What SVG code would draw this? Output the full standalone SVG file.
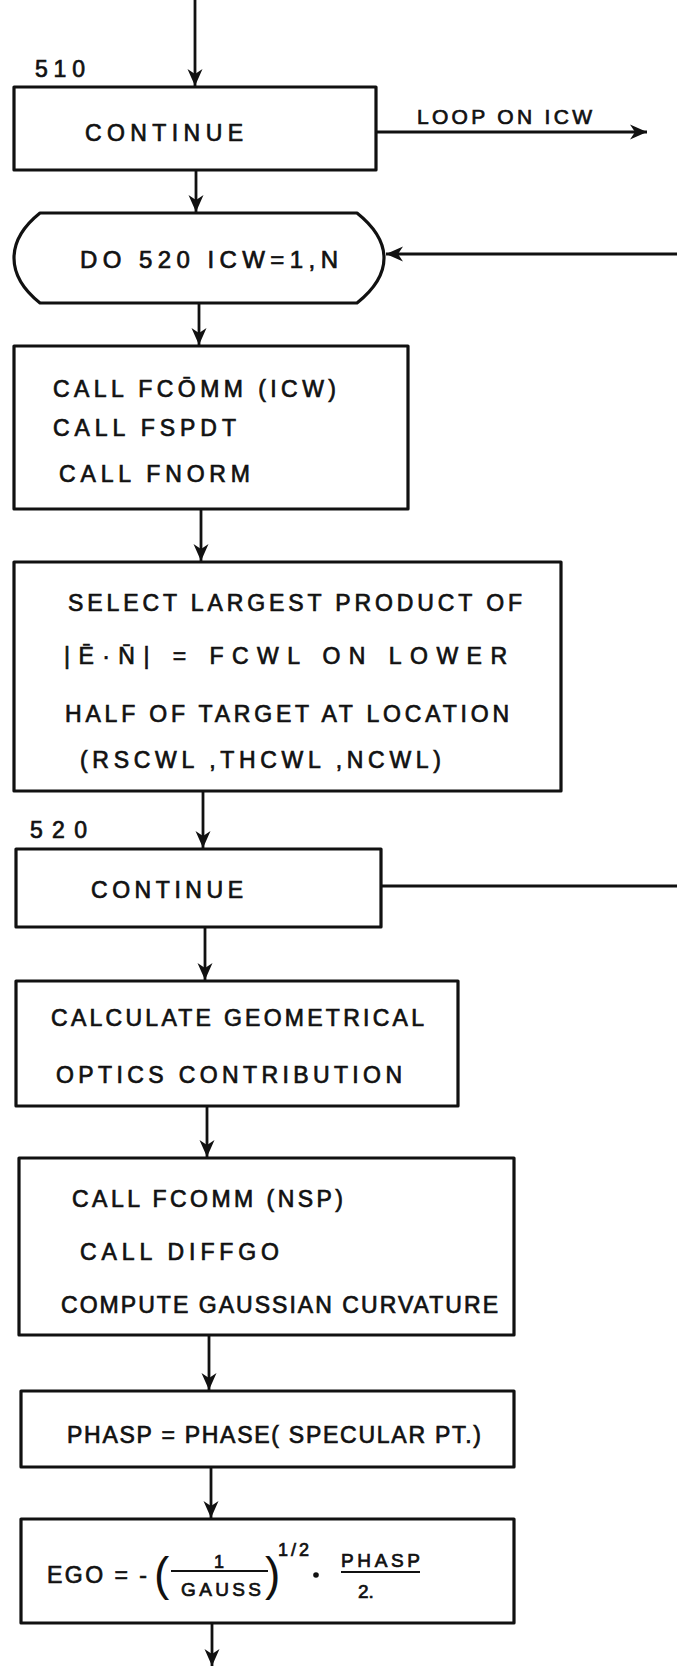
<svg xmlns="http://www.w3.org/2000/svg" width="677" height="1669" viewBox="0 0 677 1669">
<defs>
<marker id="ah" markerUnits="userSpaceOnUse" markerWidth="18" markerHeight="16" viewBox="0 0 18 16" refX="17" refY="8" orient="auto">
<path d="M0,0.5 L17,8 L0,15.5 L5,8 Z" fill="#111"/>
</marker>
</defs>
<style>
.box{fill:#fff;stroke:#111;stroke-width:3.2;stroke-linejoin:round}
.ln{fill:none;stroke:#111;stroke-width:2.8}
.t{font-family:"Liberation Sans",Arial,sans-serif;font-size:23px;fill:#111;stroke:#111;stroke-width:0.7}
</style>
<rect width="677" height="1669" fill="#fff"/>
<g id="connectors">
<path class="ln" d="M195,0 V86" marker-end="url(#ah)"/>
<path class="ln" d="M376,132 H647" marker-end="url(#ah)"/>
<path class="ln" d="M196,170 V212" marker-end="url(#ah)"/>
<path class="ln" d="M677,254 H386" marker-end="url(#ah)"/>
<path class="ln" d="M199,303 V345" marker-end="url(#ah)"/>
<path class="ln" d="M201,509 V561" marker-end="url(#ah)"/>
<path class="ln" d="M203,791 V848" marker-end="url(#ah)"/>
<path class="ln" d="M381,886 H677"/>
<path class="ln" d="M205,927 V980" marker-end="url(#ah)"/>
<path class="ln" d="M207,1106 V1157" marker-end="url(#ah)"/>
<path class="ln" d="M209,1335 V1390" marker-end="url(#ah)"/>
<path class="ln" d="M211,1467 V1518" marker-end="url(#ah)"/>
<path class="ln" d="M212,1623 V1666" marker-end="url(#ah)"/>
<text class="t" style="font-size:21px" x="417" y="124" textLength="175" lengthAdjust="spacing">LOOP ON ICW</text>
</g>
<g id="n510">
<text class="t" style="font-size:23px" x="35" y="77" textLength="50" lengthAdjust="spacing">510</text>
<rect class="box" x="14" y="87" width="362" height="83"/>
<text class="t" x="85" y="141" textLength="158" lengthAdjust="spacing">CONTINUE</text>
</g>
<g id="ndo">
<path class="box" d="M40,213 H357 C372,225 384,240 384,258 C384,276 372,291 357,303 H40 C25,291 14,276 14,258 C14,240 25,225 40,213 Z"/>
<text class="t" style="font-size:24px" x="80" y="268" textLength="258" lengthAdjust="spacing">DO 520 ICW=1,N</text>
</g>
<g id="ncall1">
<rect class="box" x="14" y="346" width="394" height="163"/>
<text class="t" x="53" y="397" textLength="283" lengthAdjust="spacing">CALL FCŌMM (ICW)</text>
<text class="t" x="53" y="436" textLength="183" lengthAdjust="spacing">CALL FSPDT</text>
<text class="t" x="59" y="482" textLength="191" lengthAdjust="spacing">CALL FNORM</text>
</g>
<g id="nselect">
<rect class="box" x="14" y="562" width="547" height="229"/>
<text class="t" x="68" y="611" textLength="454" lengthAdjust="spacing">SELECT LARGEST PRODUCT OF</text>
<text class="t" x="64" y="664" textLength="443" lengthAdjust="spacing">|Ē·N̄| = FCWL ON LOWER</text>
<text class="t" x="65" y="722" textLength="444" lengthAdjust="spacing">HALF OF TARGET AT LOCATION</text>
<text class="t" x="80" y="768" textLength="361" lengthAdjust="spacing">(RSCWL ,THCWL ,NCWL)</text>
</g>
<g id="n520">
<text class="t" style="font-size:23px" x="30" y="838" textLength="57" lengthAdjust="spacing">520</text>
<rect class="box" x="16" y="849" width="365" height="78"/>
<text class="t" x="91" y="898" textLength="152" lengthAdjust="spacing">CONTINUE</text>
</g>
<g id="ngeo">
<rect class="box" x="16" y="981" width="442" height="125"/>
<text class="t" x="51" y="1026" textLength="373" lengthAdjust="spacing">CALCULATE GEOMETRICAL</text>
<text class="t" x="56" y="1083" textLength="346" lengthAdjust="spacing">OPTICS CONTRIBUTION</text>
</g>
<g id="ngauss">
<rect class="box" x="19" y="1158" width="495" height="177"/>
<text class="t" x="72" y="1207" textLength="271" lengthAdjust="spacing">CALL FCOMM (NSP)</text>
<text class="t" x="80" y="1260" textLength="199" lengthAdjust="spacing">CALL DIFFGO</text>
<text class="t" x="61" y="1313" textLength="437" lengthAdjust="spacing">COMPUTE GAUSSIAN CURVATURE</text>
</g>
<g id="nphasp">
<rect class="box" x="21" y="1391" width="493" height="76"/>
<text class="t" x="67" y="1443" textLength="414" lengthAdjust="spacing">PHASP = PHASE( SPECULAR PT.)</text>
</g>
<g id="nego">
<rect class="box" x="21" y="1519" width="493" height="104"/>
<text class="t" x="47" y="1583" textLength="100" lengthAdjust="spacing">EGO = -</text>
<text class="t" style="font-size:46px;stroke-width:0" x="154" y="1590">(</text>
<line class="ln" x1="171" y1="1571" x2="268" y2="1571" style="stroke-width:2.2"/>
<text class="t" style="font-size:18px" x="214" y="1568">1</text>
<text class="t" style="font-size:19px" x="181" y="1596" textLength="80" lengthAdjust="spacing">GAUSS</text>
<text class="t" style="font-size:46px;stroke-width:0" x="265" y="1590">)</text>
<text class="t" style="font-size:18px" x="278" y="1556" textLength="31" lengthAdjust="spacing">1/2</text>
<circle cx="316" cy="1575" r="2.8" fill="#111"/>
<text class="t" style="font-size:19px" x="341" y="1567" textLength="79" lengthAdjust="spacing">PHASP</text>
<line class="ln" x1="341" y1="1572" x2="420" y2="1572" style="stroke-width:2"/>
<text class="t" style="font-size:19px" x="358" y="1598">2.</text>
</g>
</svg>
